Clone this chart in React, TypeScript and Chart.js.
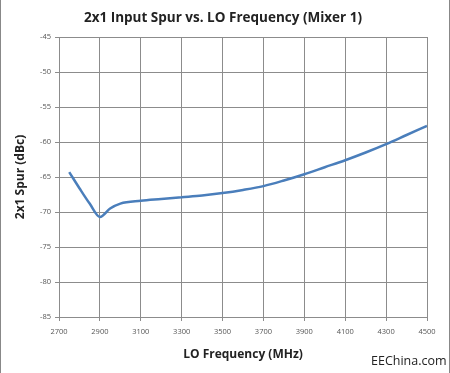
import React, { useEffect, useRef } from "react";
import { Chart, registerables } from "chart.js";
Chart.register(...registerables);

const freqMHz = [2750, 2800, 2850, 2900, 2950, 3000, 3100, 3200, 3300, 3400, 3500, 3600, 3700, 3800, 3900, 4000, 4100, 4200, 4300, 4400, 4500];
const spurDbc = [-64.3, -66.6, -68.8, -70.7, -69.5, -68.8, -68.4, -68.15, -67.9, -67.65, -67.3, -66.85, -66.3, -65.5, -64.6, -63.6, -62.6, -61.5, -60.3, -59.0, -57.7];
const xTicks = [2700, 2900, 3100, 3300, 3500, 3700, 3900, 4100, 4300, 4500];
const yTicks = [-45, -50, -55, -60, -65, -70, -75, -80, -85];

const FONT = "'Open Sans', 'DejaVu Sans', sans-serif";

export default function App() {
  const ref = useRef<HTMLCanvasElement>(null);
  useEffect(() => {
    if (!ref.current) return;
    const chart = new Chart(ref.current, {
      type: "line",
      data: {
        datasets: [
          {
            data: freqMHz.map((x, i) => ({ x, y: spurDbc[i] })),
            borderColor: "#4a7ebb",
            borderWidth: 2.5,
            pointRadius: 0,
            cubicInterpolationMode: "monotone",
            fill: false,
          },
        ],
      },
      options: {
        animation: false,
        responsive: false,
        maintainAspectRatio: false,
        layout: { padding: { top: 37, right: 22, left: 0, bottom: 0 } },
        plugins: {
          legend: { display: false },
          tooltip: { enabled: false },
          title: { display: false },
        },
        scales: {
          x: {
            type: "linear",
            min: 2700,
            max: 4500,
            afterBuildTicks: (s: any) => {
              s.ticks = xTicks.map((v) => ({ value: v }));
            },
            afterFit: (s: any) => {
              s.height = 56;
            },
            grid: { color: "#8c8c8c", lineWidth: 1, tickLength: 4, drawTicks: true },
            border: { color: "#8c8c8c" },
            ticks: {
              color: "#555",
              font: { family: FONT, size: 7.5 },
              padding: 6,
              maxRotation: 0,
              callback: (v: any) => String(v),
            },
            title: {
              display: true,
              text: "LO Frequency (MHz)",
              color: "#222",
              font: { family: FONT, size: 12, weight: "bold" },
              padding: { top: 2, bottom: 11 },
            },
          },
          y: {
            type: "linear",
            min: -85,
            max: -45,
            afterBuildTicks: (s: any) => {
              s.ticks = yTicks.map((v) => ({ value: v }));
            },
            afterFit: (s: any) => {
              s.width = 58;
            },
            grid: { color: "#8c8c8c", lineWidth: 1, tickLength: 4 },
            border: { color: "#8c8c8c" },
            ticks: {
              color: "#555",
              font: { family: FONT, size: 7.5 },
              padding: 4,
              callback: (v: any) => String(v),
            },
            title: {
              display: true,
              text: "2x1 Spur (dBc)",
              color: "#222",
              font: { family: FONT, size: 12, weight: "bold" },
              padding: { top: 12, bottom: 4 },
            },
          },
        },
      },
    } as any);
    return () => chart.destroy();
  }, []);
  return (
    <div
      style={{
        position: "fixed",
        left: 0,
        top: 0,
        width: 450,
        height: 373,
        background: "#fff",
        boxSizing: "border-box",
        borderLeft: "1px solid #888",
        borderRight: "1px solid #888",
      }}
    >
      <canvas ref={ref} width={448} height={373} style={{ display: "block" }} />
      <div
        style={{
          position: "absolute",
          left: 0,
          width: 444,
          top: 8,
          textAlign: "center",
          fontFamily: FONT,
          fontSize: 13.5,
          fontWeight: "bold",
          color: "#222",
          lineHeight: "18px",
          whiteSpace: "nowrap",
        }}
      >
        2x1 Input Spur vs. LO Frequency (Mixer 1)
      </div>
      <div
        style={{
          position: "absolute",
          left: 370,
          top: 352,
          fontFamily: FONT,
          fontSize: 12.5,
          color: "#222",
        }}
      >
        EEChina.com
      </div>
    </div>
  );
}
